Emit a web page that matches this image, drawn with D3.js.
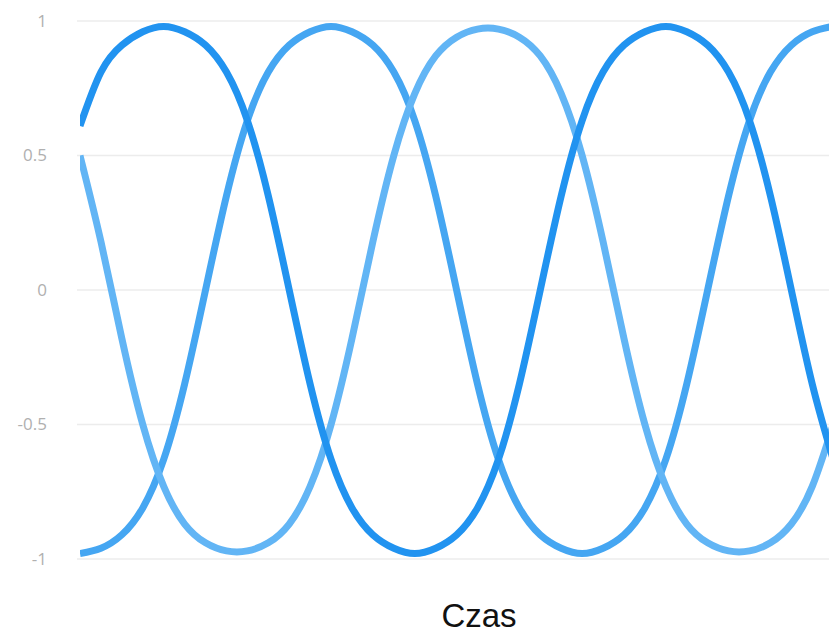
<!DOCTYPE html>
<html>
<head>
<meta charset="utf-8">
<script src="https://cdn.jsdelivr.net/npm/d3@7"></script>
<style>
  html, body { margin: 0; padding: 0; background: #fff; }
  svg { display: block; }
</style>
</head>
<body>
<div id="container"></div>
<script>
let w = 829;
let h = 634;

// time steps (each ~1/24 of a period)
let czas = [0, 1, 2, 3, 4, 5, 6, 7, 8, 9, 10, 11, 12, 13, 14, 15, 16, 17, 18,
  19, 20, 21, 22, 23, 24, 25, 26, 27, 28, 29, 30, 31, 32, 33, 34, 35, 36];

// values
let faza1 = [0.61, 0.81, 0.91, 0.96, 0.98, 0.96, 0.91, 0.81, 0.63, 0.35, 0, -0.35, -0.63,
  -0.81, -0.91, -0.96, -0.98, -0.96, -0.91, -0.81, -0.63, -0.35, 0, 0.35, 0.63,
  0.81, 0.91, 0.96, 0.98, 0.96, 0.91, 0.81, 0.63, 0.35, 0, -0.35, -0.63];
let faza2 = [-0.98, -0.96, -0.91, -0.81, -0.63, -0.35, 0, 0.35, 0.63, 0.81, 0.91, 0.96, 0.98,
  0.96, 0.91, 0.81, 0.63, 0.35, 0, -0.35, -0.63, -0.81, -0.91, -0.96, -0.98,
  -0.96, -0.91, -0.81, -0.63, -0.35, 0, 0.35, 0.63, 0.81, 0.91, 0.96, 0.98];
let faza3 = [0.5, 0.18, -0.18, -0.5, -0.73, -0.87, -0.94, -0.97, -0.97, -0.94, -0.87, -0.73, -0.5,
  -0.18, 0.18, 0.5, 0.73, 0.87, 0.94, 0.97, 0.97, 0.94, 0.87, 0.73, 0.5,
  0.18, -0.18, -0.5, -0.73, -0.87, -0.94, -0.97, -0.97, -0.94, -0.87, -0.73, -0.5];

let yTicks = [-1, -0.5, 0, 0.5, 1];
let yTickLabels = ["-1", "-0.5", "0", "0.5", "1"];

let viz = d3.select("#container")
  .append("svg")
  .attr("width", w)
  .attr("height", h)
  .style("background-color", "white");

let x = d3.scaleLinear().domain([0, 35.8]).range([80, 829]);
let y = d3.scaleLinear().domain([-1, 1]).range([559, 21]);

// grid lines
viz.append("g")
  .selectAll("line")
  .data(yTicks)
  .enter()
  .append("line")
  .attr("x1", 77)
  .attr("x2", w)
  .attr("y1", d => y(d))
  .attr("y2", d => y(d))
  .attr("stroke", "#ececec")
  .attr("stroke-width", 1.5);

// y axis labels
let yAxis = d3.axisLeft(y)
  .tickValues(yTicks)
  .tickFormat((d, i) => yTickLabels[i])
  .tickSize(0)
  .tickPadding(0);

let yAxisGroup = viz.append("g")
  .attr("transform", "translate(47,0)")
  .call(yAxis);
yAxisGroup.select(".domain").remove();
yAxisGroup.selectAll("text")
  .attr("fill", "#b0b0b0")
  .style("font-family", "'Open Sans', sans-serif")
  .style("font-size", "17px");

let series = [
  { name: "faza2", values: faza2, color: "#45a6f2" },
  { name: "faza3", values: faza3, color: "#62b5f5" },
  { name: "faza1", values: faza1, color: "#2193f0" }
];

let line = d3.line()
  .x((d, i) => x(czas[i]))
  .y(d => y(d))
  .curve(d3.curveNatural);

viz.append("defs")
  .append("clipPath")
  .attr("id", "plotClip")
  .append("rect")
  .attr("x", 80)
  .attr("y", 0)
  .attr("width", w - 80)
  .attr("height", h);

viz.append("g")
  .attr("clip-path", "url(#plotClip)")
  .selectAll("path")
  .data(series)
  .enter()
  .append("path")
  .attr("d", d => line(d.values))
  .attr("fill", "none")
  .attr("stroke", d => d.color)
  .attr("stroke-width", 7);

// x axis title
viz.append("text")
  .attr("x", 479)
  .attr("y", 627)
  .attr("text-anchor", "middle")
  .style("font-family", "'Liberation Sans', Arial, sans-serif")
  .style("font-size", "33px")
  .attr("fill", "#111")
  .text("Czas");
</script>
</body>
</html>
